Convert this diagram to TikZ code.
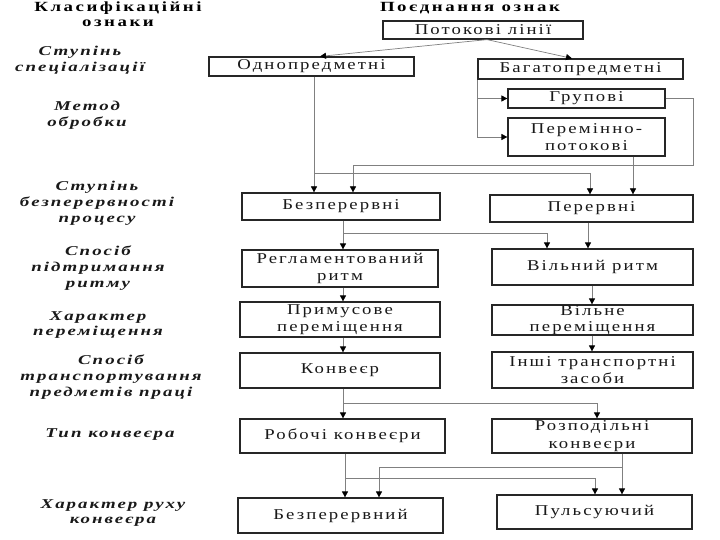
\documentclass[tikz,border=0pt]{standalone}
\usepackage{fontspec}
\setmainfont{Liberation Serif}
\newfontfamily\boxfont{Liberation Serif}[FakeStretch=1.25,LetterSpace=14]
\newfontfamily\labfont{Liberation Serif}[FakeStretch=1.4,LetterSpace=15]
\newfontfamily\headfont{Liberation Serif}[FakeStretch=1.35,LetterSpace=18]
\usetikzlibrary{arrows.meta,calc}
\begin{document}
\begin{tikzpicture}[x=1pt,y=-1pt,
  box/.style={draw=black!85,line width=1.2pt,fill=white,align=center,inner xsep=1pt,inner ysep=0pt,
    font=\boxfont\fontsize{15}{17.5}\selectfont,text=black!90},
  lab/.style={align=center,font=\labfont\bfseries\itshape\fontsize{13.5}{15.8}\selectfont,text=black!90},
  head/.style={align=center,font=\headfont\bfseries\fontsize{14}{14.5}\selectfont,text=black},
  conn/.style={draw=black!50,line width=0.7pt,-{Triangle[length=6pt,width=6pt,color=black]}},
  seg/.style={draw=black!50,line width=0.7pt}]
\useasboundingbox (0,0) rectangle (720,540);

% headers and left labels
\node[head] (h1) at (118,14) {Класифікаційні\\ознаки};
\node[head] (h2) at (470,8) {Поєднання ознак};
\node[lab] (l1) at (80,60) {Ступінь\\спеціалізації};
\node[lab] (l2) at (87,115) {Метод\\обробки};
\node[lab] (l3) at (97,203) {Ступінь\\безперервності\\процесу};
\node[lab] (l4) at (98,268) {Спосіб\\підтримання\\ритму};
\node[lab] (l5) at (98,325) {Характер\\переміщення};
\node[lab] (l6) at (111,377) {Спосіб\\транспортування\\предметів праці};
\node[lab] (l7) at (110,435) {Тип конвеєра};
\node[lab] (l8) at (113,513) {Характер руху\\конвеєра};

% boxes
\node[box,minimum width=200,minimum height=18] (pl) at (483,30) {Потокові лінії};
\node[box,minimum width=205,minimum height=19] (odn) at (311.5,66.5) {Однопредметні};
\node[box,minimum width=205,minimum height=20] (bag) at (580.5,69) {Багатопредметні};
\node[box,minimum width=157,minimum height=19] (grp) at (586.5,98.5) {Групові};
\node[box,minimum width=157,minimum height=38] (pp) at (586.5,137) {Перемінно-\\потокові};
\node[box,minimum width=198,minimum height=27] (bezp) at (341,206.5) {Безперервні};
\node[box,minimum width=203,minimum height=27] (perer) at (591.5,208.5) {Перервні};
\node[box,minimum width=196,minimum height=37] (regl) at (340,268.5) {Регламентований\\ритм};
\node[box,minimum width=201,minimum height=36] (vilr) at (592.5,267) {Вільний ритм};
\node[box,minimum width=200,minimum height=35] (prim) at (340,319.5) {Примусове\\переміщення};
\node[box,minimum width=201,minimum height=30,font=\boxfont\fontsize{15}{15.5}\selectfont] (vilp) at (592.5,320) {Вільне\\переміщення};
\node[box,minimum width=200,minimum height=35] (konv) at (340,370.5) {Конвеєр};
\node[box,minimum width=201,minimum height=36] (inshi) at (592.5,370) {Інші транспортні\\засоби};
\node[box,minimum width=205,minimum height=34] (rob) at (342.5,436) {Робочі конвеєри};
\node[box,minimum width=200,minimum height=34] (rozp) at (592,436) {Розподільні\\конвеєри};
\node[box,minimum width=205,minimum height=35] (bezpn) at (340.5,515.5) {Безперервний};
\node[box,minimum width=195,minimum height=34] (puls) at (594.5,512) {Пульсуючий};

% column coordinates
\coordinate (c314) at (314,0);
\coordinate (c343) at (343,0);
\coordinate (c345) at (345,0);
\coordinate (c353) at (353,0);
\coordinate (c379) at (379,0);
\coordinate (c547) at (547,0);
\coordinate (c588) at (588,0);
\coordinate (c590) at (590,0);
\coordinate (c592) at (592,0);
\coordinate (c595) at (595,0);
\coordinate (c597) at (597,0);
\coordinate (c622) at (622,0);
\coordinate (c633) at (633,0);
% junctions
\coordinate (j1) at (314,173);
\coordinate (j2) at (343,233);
\coordinate (j3) at (343,403);
\coordinate (j4) at (345,478);
\coordinate (j5) at (622,467);
\coordinate (j6) at (693,165);

% connectors
\draw[conn] ($(pl.south)+(4,0)$) -- ($(odn.north)+(8.5,0)$);
\draw[conn] ($(pl.south)+(4,0)$) -- ($(bag.north)+(-8.5,0)$);
\draw[conn] (odn.south -| c314) -- (bezp.north -| c314);
\draw[conn] (j1) -| (perer.north -| c590);
\draw[conn] (bag.south west) |- (grp.west);
\draw[conn] (bag.south west) |- (pp.west);
\draw[conn] (grp.east) -| (j6) -| (bezp.north -| c353);
\draw[conn] (pp.south -| c633) -- (perer.north -| c633);
\draw[conn] (bezp.south -| c343) -- (regl.north -| c343);
\draw[conn] (j2) -| (vilr.north -| c547);
\draw[conn] (perer.south -| c588) -- (vilr.north -| c588);
\draw[conn] (regl.south -| c343) -- (prim.north -| c343);
\draw[conn] (vilr.south -| c592) -- (vilp.north -| c592);
\draw[conn] (prim.south -| c343) -- (konv.north -| c343);
\draw[conn] (vilp.south -| c592) -- (inshi.north -| c592);
\draw[conn] (konv.south -| c343) -- (rob.north -| c343);
\draw[conn] (j3) -| (rozp.north -| c597);
\draw[conn] (rob.south -| c345) -- (bezpn.north -| c345);
\draw[conn] (j4) -| (puls.north -| c595);
\draw[conn] (rozp.south -| c622) -- (puls.north -| c622);
\draw[conn] (j5) -| (bezpn.north -| c379);
\end{tikzpicture}
\end{document}
